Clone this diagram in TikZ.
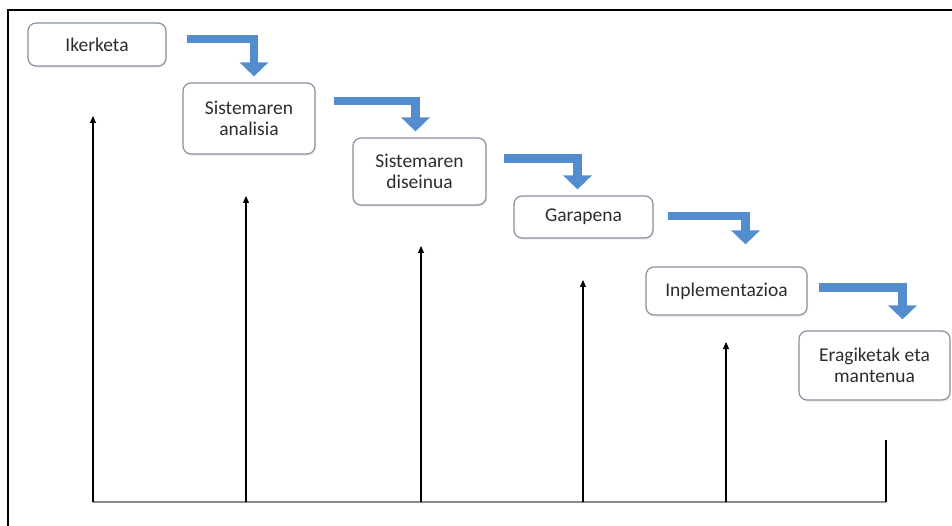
\documentclass[tikz,border=0pt]{standalone}
\usepackage{fontspec}
\setmainfont{Carlito}
\usetikzlibrary{arrows.meta,calc,shadows}
\definecolor{boxline}{RGB}{135,145,160}
\definecolor{flowblue}{RGB}{84,141,206}
\definecolor{basegray}{RGB}{140,140,140}
\definecolor{txt}{RGB}{45,45,45}
\begin{document}
\begin{tikzpicture}[x=1pt,y=-1pt,
  stage/.style={draw=boxline, line width=1.2pt, rounded corners=8pt, fill=white,
    align=center, inner sep=0pt, text=txt,
    font=\fontsize{19.5}{21}\selectfont,
    drop shadow={opacity=0.12, shadow xshift=1pt, shadow yshift=-2pt}},
  flow/.style={draw=flowblue, line width=8.5pt, line join=miter,
    -{Triangle[width=28pt,length=14pt]}},
  rise/.style={draw=black, line width=1.1pt, -{Triangle[width=6pt,length=7pt]}},
  frameline/.style={draw=black, line width=2pt}]
  \useasboundingbox (0,0) rectangle (952,526);

  % outer frame (top and left edges)
  \draw[frameline] (8,526) -- (8,10) -- (952,10);

  % phases
  \node[stage, minimum width=138pt, minimum height=43pt] (ik) at (97,44.5) {Ikerketa};
  \node[stage, minimum width=132pt, minimum height=71pt] (an) at (249,118.5) {Sistemaren\\analisia};
  \node[stage, minimum width=133pt, minimum height=67pt] (di) at (419.5,171.5) {Sistemaren\\diseinua};
  \node[stage, minimum width=139pt, minimum height=42pt] (ga) at (583.5,217) {Garapena};
  \node[stage, minimum width=161pt, minimum height=48pt] (in) at (726.5,291) {Inplementazioa};
  \node[stage, minimum width=151pt, minimum height=69pt] (er) at (874.5,365.5) {Eragiketak eta\\mantenua};

  % cascading flow arrows
  \draw[flow] ($(ik.east)+(20,-5.5)$) -| ($(an.north)+(5,-6)$);
  \draw[flow] ($(an.east)+(18,-17.5)$) -| ($(di.north)+(-4,-6)$);
  \draw[flow] ($(di.east)+(17,-13)$) -| ($(ga.north)+(-6,-6)$);
  \draw[flow] ($(ga.east)+(14,-1)$) -| ($(in.north)+(19,-22)$);
  \draw[flow] ($(in.east)+(11,-3.5)$) -| ($(er.north)+(28,-11)$);

  % base line and feedback risers
  \coordinate (b1) at (93,502);
  \coordinate (b2) at (246,502);
  \coordinate (b3) at (421,502);
  \coordinate (b4) at (583,502);
  \coordinate (b5) at (726,502);
  \coordinate (b6) at (886,502);
  \coordinate (t1) at (93,116);
  \coordinate (t2) at (246,196);
  \coordinate (t3) at (421,246);
  \coordinate (t4) at (583,280);
  \coordinate (t5) at (726,342);
  \coordinate (t6) at (886,440);

  \draw[basegray, line width=2.5pt] (b1) -- (b6);
  \draw[rise] (b1) -- (t1);
  \draw[rise] (b2) -- (t2);
  \draw[rise] (b3) -- (t3);
  \draw[rise] (b4) -- (t4);
  \draw[rise] (b5) -- (t5);
  \draw[black, line width=1.1pt] (b6) -- (t6);
\end{tikzpicture}
\end{document}
